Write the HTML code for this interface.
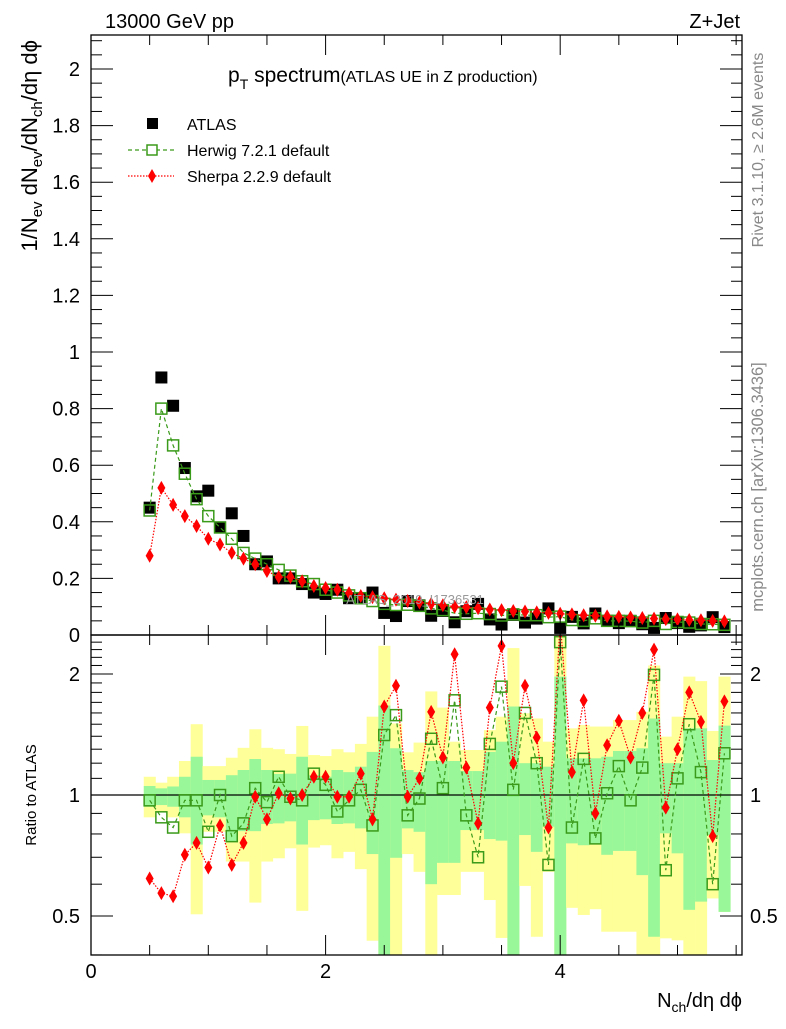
<!DOCTYPE html>
<html><head><meta charset="utf-8"><style>
body{margin:0;background:#fff;}
svg text{font-family:"Liberation Sans",sans-serif;}
</style></head><body>
<svg id="c" width="786" height="1024" xmlns="http://www.w3.org/2000/svg">
<defs>
<clipPath id="clipMain"><rect x="91" y="35" width="651" height="600"/></clipPath>
<clipPath id="clipRatio"><rect x="91" y="635" width="651" height="320"/></clipPath>
</defs>
<rect width="786" height="1024" fill="#fff"/>
<g id="ratioBands" clip-path="url(#clipRatio)"></g>
<g id="mainMarks" clip-path="url(#clipMain)"></g>
<g id="ratioMarks" clip-path="url(#clipRatio)"></g>
<g id="axes"></g>
<text x="105" y="28" font-size="20">13000 GeV pp</text>
<text x="740" y="28" font-size="20" text-anchor="end">Z+Jet</text>
<text x="228" y="82" font-size="21">p<tspan font-size="14" dy="7">T</tspan><tspan dy="-7"> spectrum</tspan><tspan font-size="16">(ATLAS UE in Z production)</tspan></text>
<text x="415" y="604" font-size="13" fill="#999" text-anchor="middle">ATLAS_2019_I1736531</text>
<g>
<rect x="147" y="118" width="11" height="11" fill="#000"/>
<text x="187" y="130" font-size="16">ATLAS</text>
<line x1="128" y1="150" x2="174" y2="150" stroke="#3a9a1a" stroke-dasharray="4,3" stroke-width="1.2"/>
<rect x="147" y="145" width="10" height="10" fill="#fff" stroke="#3a9a1a" stroke-width="1.5"/>
<text x="187" y="156" font-size="16">Herwig 7.2.1 default</text>
<line x1="128" y1="176" x2="174" y2="176" stroke="red" stroke-dasharray="1.5,1.5" stroke-width="1.2"/>
<polygon points="152,169 156,176 152,183 148,176" fill="red"/>
<text x="187" y="182" font-size="16">Sherpa 2.2.9 default</text>
</g>
<text transform="translate(37,40) rotate(-90)" font-size="22" text-anchor="end">1/N<tspan font-size="15" dy="5">ev</tspan><tspan dy="-5"> dN</tspan><tspan font-size="15" dy="5">ev</tspan><tspan dy="-5">/dN</tspan><tspan font-size="15" dy="5">ch</tspan><tspan dy="-5">/dη dϕ</tspan></text>
<text transform="translate(36,795) rotate(-90)" font-size="15" text-anchor="middle">Ratio to ATLAS</text>
<text x="742" y="1007" font-size="20" text-anchor="end">N<tspan font-size="14" dy="5">ch</tspan><tspan dy="-5">/dη dϕ</tspan></text>
<text transform="translate(763,150) rotate(-90)" font-size="16" fill="#888" text-anchor="middle">Rivet 3.1.10, ≥ 2.6M events</text>
<text transform="translate(763,487) rotate(-90)" font-size="16.5" fill="#888" text-anchor="middle">mcplots.cern.ch [arXiv:1306.3436]</text>
</svg>
<script>
const xCenters=[0.5,0.6,0.7,0.8,0.9,1.0,1.1,1.2,1.3,1.4,1.5,1.6,1.7,1.8,1.9,2.0,2.1,2.2,2.3,2.4,2.5,2.6,2.7,2.8,2.9,3.0,3.1,3.2,3.3,3.4,3.5,3.6,3.7,3.8,3.9,4.0,4.1,4.2,4.3,4.4,4.5,4.6,4.7,4.8,4.9,5.0,5.1,5.2,5.3,5.4];
const atlasValues=[0.45,0.91,0.81,0.59,0.49,0.51,0.38,0.43,0.35,0.25,0.26,0.20,0.20,0.18,0.15,0.145,0.16,0.13,0.13,0.15,0.078,0.067,0.12,0.105,0.068,0.085,0.045,0.084,0.11,0.055,0.037,0.071,0.044,0.058,0.094,0.025,0.064,0.041,0.076,0.05,0.042,0.05,0.038,0.025,0.06,0.042,0.029,0.034,0.063,0.028];
const herwigValues=[0.44,0.80,0.67,0.57,0.48,0.42,0.38,0.34,0.29,0.27,0.25,0.23,0.21,0.19,0.18,0.16,0.15,0.14,0.13,0.12,0.11,0.106,0.107,0.103,0.094,0.088,0.077,0.075,0.077,0.074,0.069,0.073,0.07,0.07,0.063,0.065,0.053,0.05,0.059,0.05,0.05,0.049,0.044,0.05,0.039,0.046,0.044,0.039,0.038,0.036];
const sherpaValues=[0.28,0.52,0.46,0.42,0.385,0.34,0.32,0.29,0.27,0.25,0.226,0.205,0.205,0.19,0.173,0.166,0.16,0.148,0.138,0.134,0.13,0.125,0.12,0.115,0.11,0.105,0.1,0.098,0.095,0.09,0.088,0.085,0.083,0.08,0.078,0.075,0.073,0.07,0.068,0.066,0.064,0.062,0.06,0.058,0.056,0.055,0.053,0.052,0.05,0.048];
const herwigRatio=[0.97,0.88,0.83,0.97,0.97,0.81,1.0,0.79,0.85,1.04,0.96,1.11,0.99,0.97,1.13,1.06,0.91,0.97,1.03,0.84,1.41,1.58,0.89,0.98,1.38,1.04,1.72,0.89,0.70,1.34,1.86,1.03,1.60,1.20,0.67,2.4,0.83,1.23,0.78,1.01,1.18,0.97,1.17,1.99,0.65,1.10,1.50,1.14,0.60,1.27];
const sherpaRatio=[0.62,0.57,0.56,0.71,0.76,0.66,0.84,0.67,0.76,0.99,0.87,1.01,0.98,1.0,1.11,1.11,0.99,0.99,1.13,0.87,1.66,1.87,0.99,1.10,1.61,1.24,2.24,1.17,0.85,1.65,2.35,1.20,1.87,1.39,0.83,2.7,1.14,1.72,0.90,1.33,1.53,1.24,1.60,2.3,0.93,1.30,1.80,1.52,0.79,1.71];
const yellowHi=[1.11,1.073,1.11,1.215,1.50,1.18,1.18,1.238,1.31,1.457,1.31,1.30,1.265,1.485,1.257,1.25,1.30,1.277,1.34,1.566,2.35,1.507,1.277,1.35,1.81,1.65,1.357,1.294,1.294,1.45,1.566,2.32,1.597,1.55,1.357,2.6,1.465,1.493,1.48,1.48,1.536,1.536,1.61,2.1,1.397,1.566,1.97,1.92,1.443,1.97];
const yellowLo=[0.88,0.909,0.88,0.803,0.505,0.81,0.81,0.683,0.683,0.54,0.683,0.696,0.737,0.515,0.74,0.75,0.696,0.722,0.654,0.434,0.3,0.3,0.713,0.644,0.3,0.564,0.564,0.644,0.644,0.548,0.441,0.3,0.594,0.444,0.644,0.3,0.524,0.503,0.52,0.457,0.457,0.457,0.3,0.3,0.44,0.435,0.3,0.3,0.553,0.512];
const greenHi=[1.053,1.039,1.05,1.11,1.245,1.09,1.09,1.12,1.154,1.229,1.154,1.128,1.13,1.245,1.12,1.11,1.154,1.14,1.176,1.28,1.67,1.307,1.154,1.14,1.215,1.215,1.215,1.147,1.147,1.28,1.357,1.66,1.20,1.20,1.176,1.97,1.234,1.234,1.234,1.245,1.287,1.287,1.307,1.55,1.2,1.2,1.465,1.465,1.222,1.488];
const greenLo=[0.935,0.944,0.935,0.88,0.753,0.89,0.88,0.768,0.813,0.813,0.847,0.85,0.86,0.753,0.866,0.87,0.847,0.85,0.826,0.713,0.3,0.698,0.826,0.81,0.60,0.678,0.678,0.818,0.818,0.777,0.77,0.3,0.795,0.722,0.834,0.3,0.758,0.75,0.758,0.71,0.726,0.726,0.632,0.444,0.803,0.716,0.518,0.543,0.795,0.512];
const mainTicks=[0,0.2,0.4,0.6,0.8,1,1.2,1.4,1.6,1.8,2];
const mainTickLabels=["0","0.2","0.4","0.6","0.8","1","1.2","1.4","1.6","1.8","2"];
const xTicks=[0,2,4];
const ratioTicks=[0.5,1,2];

const NS="http://www.w3.org/2000/svg";
const X0=91,X1=742,XMAX=5.55;
const xs=v=>X0+v/XMAX*(X1-X0);
const ym=v=>635-v*283;
const yr=v=>795-Math.log10(v)*402;
function mk(tag,attrs,parent){const e=document.createElementNS(NS,tag);for(const k in attrs)e.setAttribute(k,attrs[k]);parent.appendChild(e);return e;}
const gB=document.getElementById('ratioBands'),gM=document.getElementById('mainMarks'),gR=document.getElementById('ratioMarks'),gA=document.getElementById('axes');
const bw=0.1;
xCenters.forEach((x,i)=>{
  const xa=xs(x-bw/2),w=xs(x+bw/2)-xa;
  let r=mk('rect',{x:xa,y:yr(yellowHi[i]),width:w+0.3,height:yr(yellowLo[i])-yr(yellowHi[i]),fill:'#ffff99'},gB);
  
  
  let g=mk('rect',{x:xa,y:yr(greenHi[i]),width:w+0.3,height:yr(greenLo[i])-yr(greenHi[i]),fill:'#99f799'},gB);
  
  
});
mk('line',{x1:X0,x2:X1,y1:yr(1),y2:yr(1),stroke:'#000','stroke-width':1.2},gR);
function series(vals,yf,color,dash,marker,g,nm){
  const pts=xCenters.map((x,i)=>xs(x)+','+yf(vals[i])).join(' ');
  const l=mk('polyline',{points:pts,fill:'none',stroke:color,'stroke-width':1.2,'stroke-dasharray':dash},g);
  
  
  xCenters.forEach((x,i)=>{
    const cx=xs(x),cy=yf(vals[i]);let m;
    if(marker==='data'){m=mk('rect',{x:cx-6,y:cy-6,width:12,height:12,fill:'#000'},g);}
    else if(marker==='sq'){m=mk('rect',{x:cx-5.5,y:cy-5.5,width:11,height:11,fill:'none',stroke:'#3a9a1a','stroke-width':1.5},g);}
    else {m=mk('polygon',{points:`${cx},${cy-7} ${cx+4},${cy} ${cx},${cy+7} ${cx-4},${cy}`,fill:'red'},g);}
    
    
  });
}
series(atlasValues,ym,'none','0','data',gM,'atlas');
series(herwigValues,ym,'#3a9a1a','4,3','sq',gM,'herwig');
series(sherpaValues,ym,'red','1.5,1.5','dia',gM,'sherpa');
series(herwigRatio,yr,'#3a9a1a','4,3','sq',gR,'herwig-ratio');
series(sherpaRatio,yr,'red','1.5,1.5','dia',gR,'sherpa-ratio');
mk('rect',{x:X0,y:35,width:X1-X0,height:600,fill:'none',stroke:'#000','stroke-width':1.3},gA);
mk('rect',{x:X0,y:635,width:X1-X0,height:320,fill:'none',stroke:'#000','stroke-width':1.3},gA);
for(let v=0;v<=2.12;v+=0.05){const y=ym(v);const maj=Math.abs(v/0.2-Math.round(v/0.2))<1e-6;const L=maj?22:11;
  mk('line',{x1:X0,x2:X0+L,y1:y,y2:y,stroke:'#000'},gA);mk('line',{x1:X1,x2:X1-L,y1:y,y2:y,stroke:'#000'},gA);}
mainTicks.forEach((v,i)=>{const t=mk('text',{x:80,y:ym(v)+7,'font-size':20,'text-anchor':'end'},gA);t.textContent=mainTickLabels[i];
  
  });
for(let v=0;v<=5.5;v+=0.5){const x=xs(v);const maj=Math.abs(v%2)<1e-6;const L=maj?20:10;
  [35,635].forEach(t=>mk('line',{x1:x,x2:x,y1:t,y2:t+L,stroke:'#000'},gA));
  [635,955].forEach(b=>mk('line',{x1:x,x2:x,y1:b,y2:b-L,stroke:'#000'},gA));}
xTicks.forEach(v=>{const t=mk('text',{x:xs(v),y:978,'font-size':20,'text-anchor':'middle'},gA);t.textContent=String(v);
  
  });
[0.4,0.5,0.6,0.7,0.8,0.9,1,1.1,1.2,1.3,1.4,1.5,1.6,1.7,1.8,1.9,2,2.1,2.2,2.3,2.4,2.5].forEach(v=>{const y=yr(v);const maj=ratioTicks.includes(v);const L=maj?22:11;
  mk('line',{x1:X0,x2:X0+L,y1:y,y2:y,stroke:'#000'},gA);mk('line',{x1:X1,x2:X1-L,y1:y,y2:y,stroke:'#000'},gA);});
ratioTicks.forEach(v=>{[[80,'end'],[750,'start']].forEach(([x,a])=>{const t=mk('text',{x:x,y:yr(v)+7,'font-size':20,'text-anchor':a},gA);t.textContent=String(v);
  
  });});
</script>
</body></html>
